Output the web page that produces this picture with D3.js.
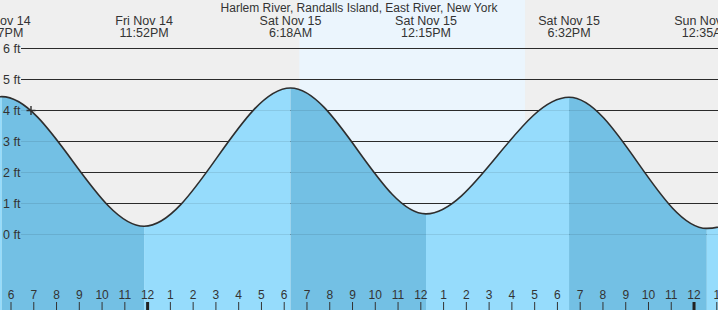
<!DOCTYPE html>
<html><head><meta charset="utf-8">
<script src="https://cdn.jsdelivr.net/npm/d3@7"></script>
<style>
body{margin:0;background:#fff}
svg{display:block;font-family:"Liberation Sans",Arial,sans-serif}
</style>
</head><body>
<svg id="c" width="718" height="310"></svg>
<script>
// ---- data ----
const title = "Harlem River, Randalls Island, East River, New York";
const eventTimes   = ["2025-11-14T11:20","2025-11-14T17:37","2025-11-14T23:52","2025-11-15T06:18","2025-11-15T12:15","2025-11-15T18:32","2025-11-16T00:35","2025-11-16T06:55"];
const eventHeights = [0.30, 4.43, 0.25, 4.71, 0.65, 4.41, 0.18, 4.60];
const eventDayLabels  = ["Fri Nov 14","Fri Nov 14","Fri Nov 14","Sat Nov 15","Sat Nov 15","Sat Nov 15","Sun Nov 16","Sun Nov 16"];
const eventTimeLabels = ["11:20AM","5:37PM","11:52PM","6:18AM","12:15PM","6:32PM","12:35AM","6:55AM"];
const yTicks = [0, 1, 2, 3, 4, 5, 6];
const yTickLabels = ["0 ft","1 ft","2 ft","3 ft","4 ft","5 ft","6 ft"];
const sunTimes = ["2025-11-15T06:41","2025-11-15T16:36"];
const nowTime = "2025-11-14T18:54";
const nowHeight = 4.0;
const axisTimes = ["2025-11-14T18:00","2025-11-16T01:00"];

// ---- scales ----
const parse = d3.timeParse("%Y-%m-%dT%H:%M");
const W = 718, H = 310;
const x = d3.scaleTime().domain(axisTimes.map(parse)).range([10.5, 716.3]);
const y = d3.scaleLinear().domain([0, 6]).range([234, 48]);

const events = eventTimes.map((t, i) => ({t: parse(t), h: eventHeights[i], day: eventDayLabels[i], time: eventTimeLabels[i]}));

const svg = d3.select("#c");
const defs = svg.append("defs");

// backgrounds (night / day)
svg.append("rect").attr("x", 0).attr("y", 0).attr("width", W).attr("height", H).attr("fill", "#efefef");
const [sr, ss] = sunTimes.map(parse);
svg.append("rect").attr("x", x(sr)).attr("y", 0).attr("width", x(ss) - x(sr)).attr("height", H).attr("fill", "#ebf5fd");

// grid lines
const gx0 = 21;
svg.append("g").selectAll("line").data(yTicks).join("line")
  .attr("x1", gx0).attr("x2", W)
  .attr("y1", d => Math.round(y(d)) + 0.5).attr("y2", d => Math.round(y(d)) + 0.5)
  .attr("stroke", "#2f2f2f").attr("stroke-width", 1);

// water area, coloured per rising / falling segment
const area = d3.area().x(d => x(d.t)).y0(H).y1(d => y(d.h)).curve(d3.curveMonotoneX);
const line = d3.line().x(d => x(d.t)).y(d => y(d.h)).curve(d3.curveMonotoneX);
const areaD = area(events);
for (let i = 0; i < events.length - 1; i++) {
  const a = events[i], b = events[i + 1];
  const id = "clip" + i;
  defs.append("clipPath").attr("id", id).append("rect")
    .attr("x", x(a.t)).attr("y", 0).attr("width", x(b.t) - x(a.t)).attr("height", H);
  svg.append("path").attr("d", areaD).attr("clip-path", `url(#${id})`)
    .attr("fill", a.h > b.h ? "#73c0e4" : "#96dcfc");
}

// faint grid lines showing through the water
svg.append("g").selectAll("line").data(yTicks).join("line")
  .attr("x1", gx0).attr("x2", W)
  .attr("y1", d => Math.round(y(d)) + 0.5).attr("y2", d => Math.round(y(d)) + 0.5)
  .attr("stroke", "#000").attr("stroke-opacity", 0.09).attr("stroke-width", 1);

// tide curve
svg.append("path").attr("d", line(events)).attr("fill", "none")
  .attr("stroke", "#2e2e2e").attr("stroke-width", 1.6);

// "now" marker
svg.append("path")
  .attr("transform", `translate(${x(parse(nowTime))},${Math.round(y(nowHeight)) + 0.5})`)
  .attr("d", "M-4.5,0H4.5M0,-4.5V4.5").attr("stroke", "#2e2e2e").attr("stroke-width", 1.4);

// y labels
svg.append("g").selectAll("text").data(yTicks).join("text")
  .attr("x", 3).attr("y", d => y(d) + 4.5)
  .attr("font-size", 12.5).attr("fill", "#333")
  .text((d, i) => yTickLabels[i]);

// bottom hour axis
const ax = svg.append("g").attr("transform", `translate(0,${H})`)
  .call(d3.axisTop(x).ticks(d3.timeHour.every(1)).tickFormat(d3.timeFormat("%-I")).tickSize(8).tickPadding(3));
ax.select(".domain").remove();
ax.selectAll("text").attr("font-size", 12).attr("fill", "#333").attr("font-family", "Liberation Sans, Arial, sans-serif");
ax.selectAll(".tick line")
  .attr("stroke-width", d => d.getHours() === 0 ? 3 : 1)
  .attr("stroke", d => d.getHours() === 0 ? "#222" : "#333");

// title
svg.append("text").attr("x", 359).attr("y", 11.5).attr("text-anchor", "middle")
  .attr("font-size", 12).attr("fill", "#333").text(title);

// high/low labels
const shown = events.filter(e => x(e.t) > -60 && x(e.t) < W + 60);
const lab = svg.append("g").selectAll("g").data(shown).join("g")
  .attr("transform", d => `translate(${x(d.t)},0)`);
lab.append("text").attr("y", 25).attr("text-anchor", "middle").attr("font-size", 12.5).attr("fill", "#333").text(d => d.day);
lab.append("text").attr("y", 37).attr("text-anchor", "middle").attr("font-size", 12.5).attr("fill", "#333").text(d => d.time);
</script>
</body></html>
